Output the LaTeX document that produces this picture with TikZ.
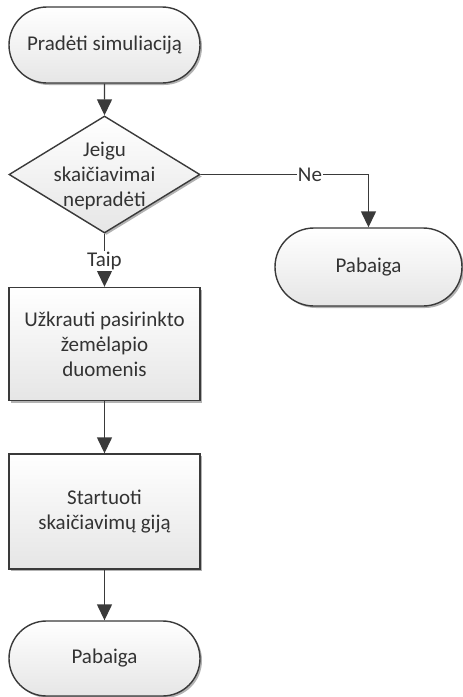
\documentclass[tikz,border=0pt]{standalone}
\usepackage{fontspec}
\setmainfont{Carlito}
\usetikzlibrary{shapes.geometric,shapes.misc,arrows.meta,shadows}
\definecolor{edge}{HTML}{3A3A3A}
\definecolor{txt}{HTML}{333333}
\tikzset{
  base/.style={draw=edge,line width=1.4pt,top color=white,bottom color=black!10,
    drop shadow={shadow xshift=2pt,shadow yshift=-2pt,opacity=0.3,fill=black},
    text=txt,font=\fontsize{21}{25}\selectfont,align=center,inner sep=0pt},
  term/.style={base,rounded rectangle,minimum width=191pt,minimum height=76pt},
  procbox/.style={base,rectangle,minimum width=191pt,minimum height=113pt},
  decision/.style={base,diamond,minimum width=191pt,minimum height=117pt,aspect=1.63},
  dectext/.style={text=txt,font=\fontsize{21}{25}\selectfont,align=center,inner sep=0pt},
  conn/.style={draw=edge,line width=1.4pt,-{Triangle[width=15pt,length=16pt]}},
  lbl/.style={fill=white,text=txt,font=\fontsize{21}{24}\selectfont,inner sep=1pt}
}
\begin{document}
\begin{tikzpicture}[x=1pt,y=-1pt]
\useasboundingbox (0,0) rectangle (463,697);
\node[term] (start) at (104.5,45) {Pradėti simuliaciją};
\node[decision] (dec) at (104.5,174.5) {};
\node[dectext] (dect) at (104.5,176) {Jeigu\\skaičiavimai\\nepradėti};
\node[term,minimum width=187pt,minimum height=78pt] (endr) at (368.5,267) {Pabaiga};
\node[procbox] (load) at (104.5,344) {Užkrauti pasirinkto\\žemėlapio\\duomenis};
\node[procbox,minimum height=115pt] (run) at (104.5,511.5) {Startuoti\\skaičiavimų giją};
\node[term,minimum height=75pt] (endl) at (104.5,658.5) {Pabaiga};
\coordinate (corner) at (endr.north |- dec.east);
\draw[conn] (start) -- (dec);
\draw[conn] (dec.east) -- (corner) -- (endr.north);
\node[lbl] (ne) at (310,174.5) {Ne};
\draw[conn] (dec.south) -- (load.north);
\node[lbl] (taip) at (104.5,261) {Taip};
\draw[conn] (load) -- (run);
\draw[conn] (run) -- (endl);
\end{tikzpicture}
\end{document}
